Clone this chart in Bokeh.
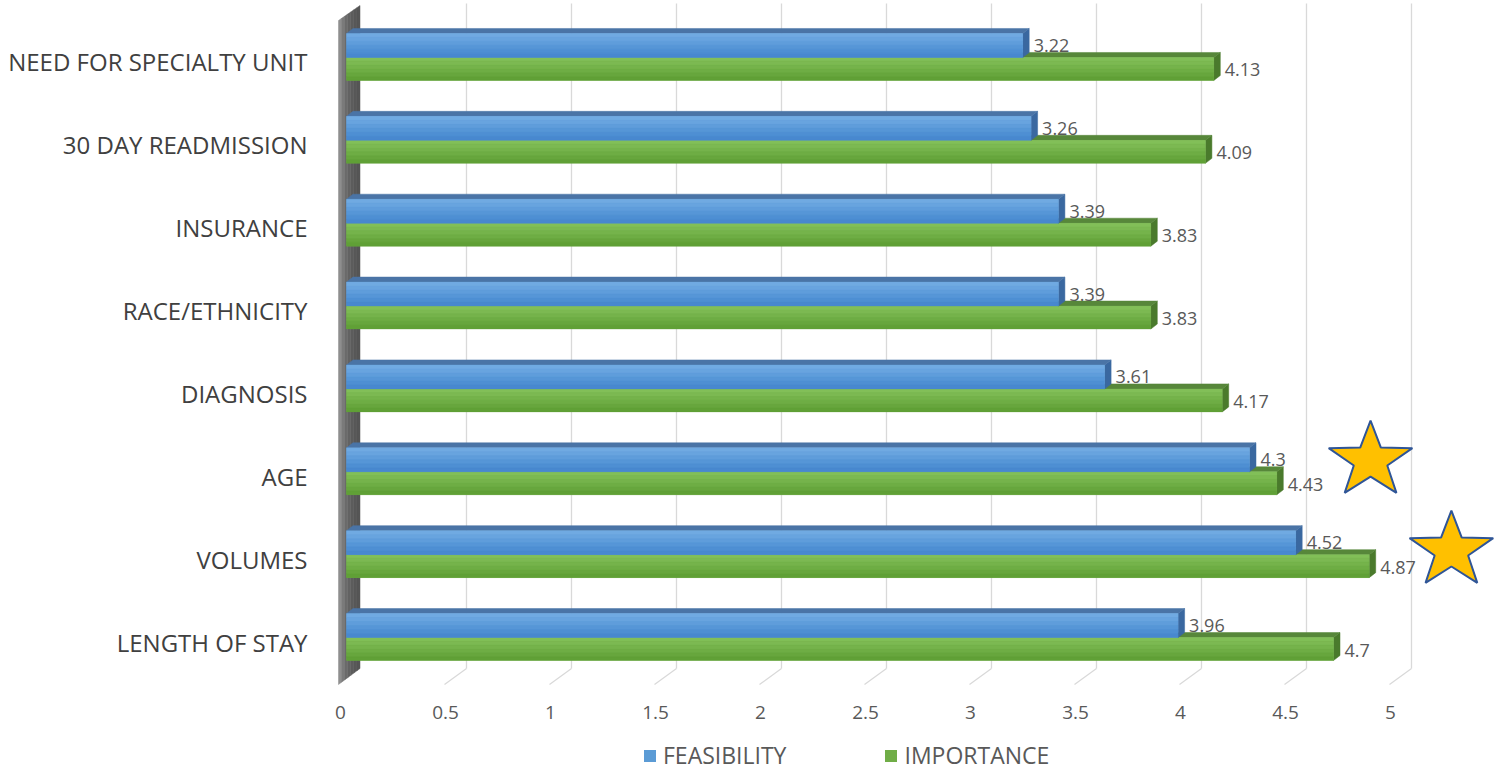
import numpy as np
from bokeh.plotting import figure
from bokeh.layouts import column
from bokeh.models import FixedTicker, Legend, LegendItem, Range1d
from bokeh.embed import file_html
from bokeh.resources import INLINE
from bokeh.core.properties import value

# ---------------- data ----------------
categories = ["NEED FOR SPECIALTY UNIT", "30 DAY READMISSION", "INSURANCE",
              "RACE/ETHNICITY", "DIAGNOSIS", "AGE", "VOLUMES", "LENGTH OF STAY"]
feasibility = [3.22, 3.26, 3.39, 3.39, 3.61, 4.3, 4.52, 3.96]
importance = [4.13, 4.09, 3.83, 3.83, 4.17, 4.43, 4.87, 4.7]
x_ticks = [0, 0.5, 1, 1.5, 2, 2.5, 3, 3.5, 4, 4.5, 5]
x_tick_labels = ["0", "0.5", "1", "1.5", "2", "2.5", "3", "3.5", "4", "4.5", "5"]
series_names = ["FEASIBILITY", "IMPORTANCE"]
starred = ["AGE", "VOLUMES"]

# ---------------- layout / style ----------------
FONT = "Open Sans"
LEFT_BORDER, RIGHT_BORDER, TOP_BORDER, BOTTOM_BORDER = 330, 2, 3, 35
FRAME_W, FRAME_H = 1166, 687
TOTAL_W = LEFT_BORDER + FRAME_W + RIGHT_BORDER
LEGEND_H = 46
PXX = 1 / 210.0     # data units per screen pixel (x)
PXY = 1 / 82.86     # data units per screen pixel (y)

n = len(categories)
ypos = np.arange(n)[::-1].astype(float)

x_start = -10 * PXX
x_end = x_start + FRAME_W * PXX
y_end = (641.5 - TOP_BORDER) * PXY
y_start = y_end - FRAME_H * PXY

# 3D pseudo-perspective
BACK_DX, BACK_DY = 21 * PXX, 16 * PXY        # floor depth
FLOOR_FRONT = -42.5 * PXY
FLOOR_BACK = FLOOR_FRONT + BACK_DY
FACE_X0 = 6 * PXX                              # bar front face start
LIFT = 4.5 * PXY                               # bar front face lift
DX, DY = 6.5 * PXX, 5 * PXY                    # bar depth
BLUE_H, GREEN_H = 24 * PXY, 23 * PXY

BLUE = dict(base="#5b9bd5", grad=["#70aae2", "#68a4df", "#5f9ddb", "#5696d7", "#4e8fd3", "#4888cf"],
            top="#4a74a6", end="#3a68a0")
GREEN = dict(base="#70ad47", grad=["#82bf58", "#7cb952", "#75b34b", "#6ead44", "#67a63d", "#60a036"],
             top="#57873a", end="#4a7a2c")

p = figure(width=TOTAL_W, height=TOP_BORDER + FRAME_H + BOTTOM_BORDER,
           frame_width=FRAME_W, frame_height=FRAME_H,
           x_range=Range1d(x_start, x_end), y_range=Range1d(y_start, y_end),
           output_backend="svg", toolbar_location=None,
           min_border_left=LEFT_BORDER, min_border_right=RIGHT_BORDER,
           min_border_top=TOP_BORDER, min_border_bottom=BOTTOM_BORDER)
p.grid.visible = False
p.outline_line_color = None
p.background_fill_color = "white"
p.border_fill_color = "white"

# axes
p.yaxis.ticker = FixedTicker(ticks=list(ypos))
p.yaxis.major_label_overrides = {int(y): c for y, c in zip(ypos, categories)}
p.yaxis.major_label_text_font = FONT
p.yaxis.major_label_text_font_size = "24px"
p.yaxis.major_label_text_color = "#404040"
p.yaxis.major_label_standoff = 17
p.yaxis.axis_line_color = None
p.yaxis.major_tick_line_color = None
p.yaxis.minor_tick_line_color = None

p.xaxis.ticker = FixedTicker(ticks=x_ticks)
p.xaxis.major_label_overrides = {t: l for t, l in zip(x_ticks, x_tick_labels)}
p.xaxis.major_label_text_font = FONT
p.xaxis.major_label_text_font_size = "19px"
p.xaxis.major_label_text_color = "#595959"
p.xaxis.major_label_standoff = 9
p.xaxis.axis_line_color = None
p.xaxis.major_tick_line_color = None
p.xaxis.minor_tick_line_color = None

# gridlines on back wall and floor
gv = [t for t in x_ticks if t > 0]
gbx = [t + BACK_DX for t in gv]
p.segment(x0=gbx, y0=[y_end + 1] * len(gv), x1=gbx, y1=[FLOOR_BACK] * len(gv),
          line_color="#d9d9d9", line_width=1.3)
p.segment(x0=gbx, y0=[FLOOR_BACK] * len(gv), x1=[t - 1 * PXX for t in gv],
          y1=[FLOOR_FRONT] * len(gv), line_color="#d9d9d9", line_width=1.3)

# left side wall (gradient strips)
wall_cols = ["#8e8e8e", "#7a7a7a", "#6b6b6b", "#626262", "#5c5c5c", "#585858", "#555555"]
w0, w1 = -2 * PXX, BACK_DX - 1.5 * PXX
edges = np.linspace(w0, w1, len(wall_cols) + 1)
TOP_FRONT = (641.5 - 20) * PXY
wx, wy = [], []
for a, b in zip(edges[:-1], edges[1:]):
    fa = (a - w0) / (w1 - w0)
    fb = (b - w0) / (w1 - w0)
    wx.append([a, a, b, b])
    wy.append([FLOOR_FRONT + fa * BACK_DY, TOP_FRONT + fa * 15 * PXY,
               TOP_FRONT + fb * 15 * PXY, FLOOR_FRONT + fb * BACK_DY])
p.patches(wx, wy, fill_color=wall_cols, line_color=wall_cols, line_width=0.5)


def draw_bars(vals, col, lower):
    vals = np.asarray(vals, dtype=float)
    left = np.full(n, FACE_X0)
    right = vals + FACE_X0
    yc = ypos + LIFT
    if lower:
        bottom, top = yc - GREEN_H, yc
    else:
        bottom, top = yc, yc + BLUE_H
    h = top - bottom
    # end face
    ex = [[r, r + DX, r + DX, r] for r in right]
    ey = [[b, b + DY, t + DY, t] for b, t in zip(bottom, top)]
    p.patches(ex, ey, fill_color=col["end"], line_color=col["end"], line_width=0.5)
    # top face
    tx = [[l, r, r + DX, l + DX] for l, r in zip(left, right)]
    ty = [[t, t, t + DY, t + DY] for t in top]
    p.patches(tx, ty, fill_color=col["top"], line_color=col["top"], line_width=0.5)
    # front face with a stepped vertical gradient
    p.quad(left=left, right=right, bottom=bottom, top=top,
           fill_color=col["base"], line_color=None)
    k = len(col["grad"])
    for j, c in enumerate(col["grad"]):
        p.quad(left=left, right=right, bottom=top - (j + 1) * h / k, top=top - j * h / k,
               fill_color=c, line_color=c, line_width=0.3)
    return right, (bottom + top) / 2


g_right, g_mid = draw_bars(importance, GREEN, True)
b_right, b_mid = draw_bars(feasibility, BLUE, False)

lab_kw = dict(text_font=value(FONT), text_font_size="18px", text_color="#595959",
              text_align="left", text_baseline="middle", x_offset=11)
p.text(x=b_right, y=b_mid, text=[f"{v:g}" for v in feasibility], **lab_kw)
p.text(x=g_right, y=g_mid - 1 * PXY, text=[f"{v:g}" for v in importance], **lab_kw)

# highlight stars
STAR_X = [4.905, 5.29]
STAR_DY = [0.19, 0.104]
RX, RY = 44 * PXX, 40 * PXY
sx, sy = [], []
for name, cx, dy in zip(starred, STAR_X, STAR_DY):
    cy = ypos[categories.index(name)] + dy
    ang = np.pi / 2 + np.arange(10) * np.pi / 5
    r = np.where(np.arange(10) % 2 == 0, 1.0, 0.40)
    sx.append(list(cx + RX * r * np.cos(ang)))
    sy.append(list(cy + RY * r * np.sin(ang)))
p.patches(sx, sy, fill_color="#ffc000", line_color="#2f5597", line_width=2)

# ---------------- legend strip ----------------
lf = figure(width=TOTAL_W, height=LEGEND_H, x_range=(0, 1), y_range=(0, 1),
            output_backend="svg", toolbar_location=None,
            x_axis_location=None, y_axis_location=None,
            min_border_left=0, min_border_right=0, min_border_top=0, min_border_bottom=0)
lf.grid.visible = False
lf.outline_line_color = None
lf.background_fill_color = "white"
lf.border_fill_color = "white"
# swatch renderers kept outside the visible range of the strip
rb = lf.quad(left=[2], right=[3], bottom=[2], top=[3], fill_color=BLUE["base"], line_color=None)
rg = lf.quad(left=[2], right=[3], bottom=[2], top=[3], fill_color=GREEN["base"], line_color=None)
legend = Legend(items=[LegendItem(label=series_names[0], renderers=[rb]),
                       LegendItem(label=series_names[1], renderers=[rg])],
                location=(312, 0), orientation="horizontal",
                glyph_width=15, glyph_height=15, label_standoff=6, spacing=97,
                label_text_font=FONT, label_text_font_size="23px",
                label_text_color="#595959", padding=0, margin=0,
                border_line_color=None, background_fill_alpha=0)
lf.add_layout(legend, "center")

layout = column(p, lf, spacing=0)
open("out.html", "w").write(file_html(layout, INLINE))
